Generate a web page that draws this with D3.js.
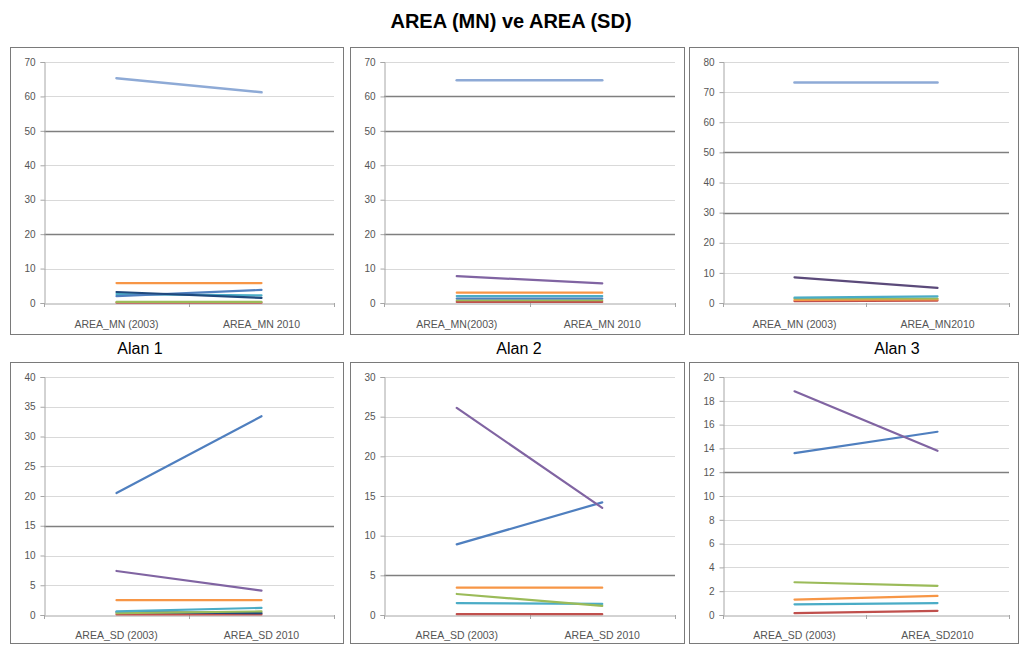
<!DOCTYPE html>
<html>
<head>
<meta charset="utf-8">
<script src="https://cdn.jsdelivr.net/npm/d3@7"></script>
<style>
  body { margin: 0; background: #fff; }
  svg { display: block; font-family: "Liberation Sans", Arial, sans-serif; }
</style>
</head>
<body>
<svg id="chart" width="1021" height="650"></svg>
<script>
// categories for the three areas (MN row and SD row)
const mnCategories = [
  ["AREA_MN (2003)", "AREA_MN 2010"],
  ["AREA_MN(2003)", "AREA_MN 2010"],
  ["AREA_MN (2003)", "AREA_MN2010"]
];
const sdCategories = [
  ["AREA_SD (2003)", "AREA_SD 2010"],
  ["AREA_SD (2003)", "AREA_SD 2010"],
  ["AREA_SD (2003)", "AREA_SD2010"]
];
const areaLabels = ["Alan 1", "Alan 2", "Alan 3"];

// [series, 2003, 2010]
const alan1MN = [
  ["lightBlue", 65.3, 61.2], ["orange", 5.8, 5.8], ["navy", 3.2, 1.5],
  ["blue", 2.0, 3.8], ["aqua", 2.6, 2.2], ["green", 0.3, 0.3], ["red", 0.1, 0.1]
];
const alan2MN = [
  ["lightBlue", 64.7, 64.7], ["purple", 7.8, 5.7], ["orange", 3.0, 3.0],
  ["aqua", 2.0, 2.0], ["blue", 1.3, 1.3], ["green", 0.8, 0.8], ["red", 0.3, 0.3]
];
const alan3MN = [
  ["lightBlue", 73.2, 73.2], ["darkPurple", 8.5, 5.0], ["aqua", 1.8, 2.2],
  ["green", 1.5, 1.5], ["orange", 1.0, 1.2], ["red", 0.6, 0.8]
];
const alan1SD = [
  ["blue", 20.5, 33.4], ["purple", 7.4, 4.1], ["orange", 2.5, 2.5],
  ["aqua", 0.6, 1.2], ["green", 0.3, 0.6], ["navy", 0.5, 0.3], ["red", 0.1, 0.1]
];
const alan2SD = [
  ["purple", 26.1, 13.5], ["blue", 8.9, 14.2], ["orange", 3.45, 3.45],
  ["green", 2.65, 1.15], ["aqua", 1.5, 1.4], ["red", 0.1, 0.1]
];
const alan3SD = [
  ["purple", 18.8, 13.8], ["blue", 13.6, 15.4], ["green", 2.75, 2.45],
  ["orange", 1.3, 1.6], ["aqua", 0.9, 1.0], ["red", 0.15, 0.35]
];

// y axis ranges and tick steps
const yMax = [70, 70, 80, 40, 30, 20];
const yStep = [10, 10, 10, 5, 5, 2];
// gridlines that print darker in the scan
const darkGrid = [[50, 20], [60, 50, 20], [50, 30], [15], [5], [12]];

const colors = {
  lightBlue: "#8eaad6", blue: "#4f7fbf", navy: "#1f497d", red: "#c0504d",
  green: "#9bbb59", purple: "#8064a2", darkPurple: "#5b4a7a", aqua: "#4bacc6",
  orange: "#f79646"
};

const svg = d3.select("#chart");

svg.append("text")
  .attr("x", 511).attr("y", 28)
  .attr("text-anchor", "middle")
  .attr("font-size", 20).attr("font-weight", "bold")
  .text("AREA (MN) ve AREA (SD)");

const frames = [[10, 343], [350, 684], [689, 1018]];
const rows = [
  { top: 47, bottom: 334, yTop: 62, yBottom: 303, labelY: 327 },
  { top: 362, bottom: 643, yTop: 377, yBottom: 615, labelY: 638 }
];

const panels = [
  { data: alan1MN, cats: mnCategories[0] },
  { data: alan2MN, cats: mnCategories[1] },
  { data: alan3MN, cats: mnCategories[2] },
  { data: alan1SD, cats: sdCategories[0] },
  { data: alan2SD, cats: sdCategories[1] },
  { data: alan3SD, cats: sdCategories[2] }
];

panels.forEach((p, i) => {
  const col = i % 3, row = rows[Math.floor(i / 3)];
  const [fx0, fx1] = frames[col];
  const ax0 = fx0 + 34, ax1 = fx1 - 9;

  const g = svg.append("g");

  g.append("rect")
    .attr("x", fx0 + 0.5).attr("y", row.top + 0.5)
    .attr("width", fx1 - fx0).attr("height", row.bottom - row.top)
    .attr("fill", "none").attr("stroke", "#7a7a7a");

  const x = d3.scaleBand().domain(p.cats).range([ax0, ax1]);
  const y = d3.scaleLinear().domain([0, yMax[i]]).range([row.yBottom, row.yTop]);
  const ticks = d3.range(0, yMax[i] + yStep[i] / 2, yStep[i]);

  // gridlines
  g.append("g").selectAll("line")
    .data(ticks.filter(t => t > 0))
    .join("line")
    .attr("x1", ax0).attr("x2", ax1)
    .attr("y1", d => Math.round(y(d)) + 0.5).attr("y2", d => Math.round(y(d)) + 0.5)
    .attr("stroke", d => darkGrid[i].includes(d) ? "#7f7f7f" : "#d9d9d9")
    .attr("stroke-width", d => darkGrid[i].includes(d) ? 1.4 : 1);

  // y axis
  const yAxis = g.append("g")
    .attr("transform", `translate(${ax0 + 0.5},0)`)
    .call(d3.axisLeft(y).tickValues(ticks).tickSize(4).tickPadding(5));
  yAxis.select(".domain").attr("stroke", "#a6a6a6");
  yAxis.selectAll(".tick line").attr("stroke", "#a6a6a6");
  yAxis.selectAll("text").attr("font-size", 10).attr("fill", "#555").attr("font-family", null);

  // x axis
  const xAxis = g.append("g")
    .attr("transform", `translate(0,${Math.round(row.yBottom) + 0.5})`)
    .call(d3.axisBottom(x).tickSize(0).tickPadding(0));
  xAxis.select(".domain").attr("stroke", "#a6a6a6");
  xAxis.selectAll(".tick text")
    .attr("font-size", 10.5).attr("fill", "#555").attr("font-family", null)
    .attr("dy", null).attr("y", row.labelY - row.yBottom);
  g.append("g").selectAll("line")
    .data([ax0, ax0 + x.bandwidth(), ax1])
    .join("line")
    .attr("x1", d => Math.round(d) + 0.5).attr("x2", d => Math.round(d) + 0.5)
    .attr("y1", row.yBottom).attr("y2", row.yBottom + 4)
    .attr("stroke", "#a6a6a6");

  // series lines
  const line = d3.line()
    .x((d, k) => x(p.cats[k]) + x.bandwidth() / 2)
    .y(d => y(d));
  g.append("g").selectAll("path")
    .data(p.data.slice().reverse())
    .join("path")
    .attr("d", s => line([s[1], s[2]]))
    .attr("fill", "none")
    .attr("stroke", s => colors[s[0]])
    .attr("stroke-width", s => s[0] === "lightBlue" ? 2.6 : 2.2)
    .attr("stroke-linecap", "round");
});

// area labels between the two rows
svg.append("g").selectAll("text")
  .data(areaLabels)
  .join("text")
  .attr("x", (d, k) => [140, 519, 897][k])
  .attr("y", 354)
  .attr("text-anchor", "middle")
  .attr("font-size", 16)
  .text(d => d);
</script>
</body>
</html>
